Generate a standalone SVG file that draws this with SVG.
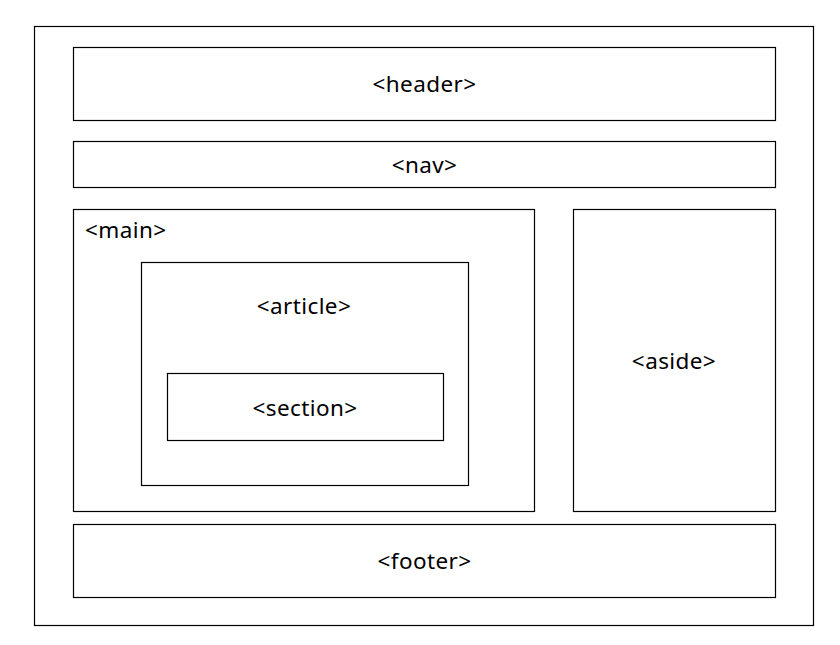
<svg xmlns="http://www.w3.org/2000/svg" width="840" height="645" viewBox="0 0 840 645">
<style>
rect{fill:#fff;stroke:#000;stroke-width:1.2}
text{font-family:"Noto Sans","Open Sans","Liberation Sans",sans-serif;font-size:22.5px;letter-spacing:0.4px;fill:#000;text-anchor:middle;dominant-baseline:central}
</style>
<rect x="0" y="0" width="840" height="645" style="stroke:none"/>
<g id="connectors"></g>
<g id="body"><rect x="34.5" y="26.5" width="779" height="599"/></g>
<g id="header"><rect x="73.5" y="47.5" width="702" height="73"/><text x="424.5" y="83">&lt;header&gt;</text></g>
<g id="nav"><rect x="73.5" y="141.5" width="702" height="46"/><text x="424.5" y="164">&lt;nav&gt;</text></g>
<g id="main"><rect x="73.5" y="209.5" width="461" height="302"/><text x="85" y="229" style="text-anchor:start">&lt;main&gt;</text></g>
<g id="article"><rect x="141.5" y="262.5" width="327" height="223"/><text x="304" y="305">&lt;article&gt;</text></g>
<g id="section"><rect x="167.5" y="373.5" width="276" height="67"/><text x="305" y="407">&lt;section&gt;</text></g>
<g id="aside"><rect x="573.5" y="209.5" width="202" height="302"/><text x="674" y="360">&lt;aside&gt;</text></g>
<g id="footer"><rect x="73.5" y="524.5" width="702" height="73"/><text x="424.5" y="560">&lt;footer&gt;</text></g>
</svg>
